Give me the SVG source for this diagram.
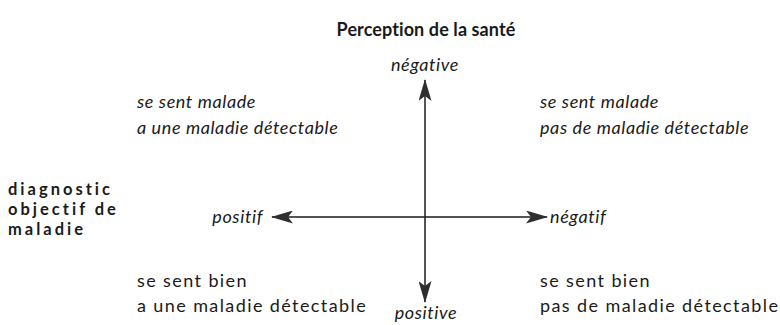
<svg xmlns="http://www.w3.org/2000/svg" width="780" height="325" viewBox="0 0 780 325">
<style>
text{font-family:Lato,"Liberation Sans",sans-serif;fill:#1a1a1a;font-size:18px;letter-spacing:1.4px}
.b{font-weight:bold}
.t{letter-spacing:0.1px}
.l{font-size:16.5px;letter-spacing:3px}
.i{font-style:italic;letter-spacing:0.6px}
.ax{stroke:#1a1a1a;stroke-width:1.5;fill:none}
</style>
<defs>
<marker id="ah" viewBox="0 0 22 13" refX="21" refY="6.5" markerWidth="22" markerHeight="13" markerUnits="userSpaceOnUse" orient="auto">
<path d="M0,0 L22,6.5 L0,13 L5,6.5 Z" fill="#2e2e2e"/>
</marker>
</defs>
<g id="title"><text class="b t" x="426" y="36" text-anchor="middle">Perception de la santé</text></g>
<g id="connectors">
<line class="ax" x1="425" y1="217" x2="425" y2="80" marker-end="url(#ah)"/>
<line class="ax" x1="425" y1="217" x2="425" y2="302" marker-end="url(#ah)"/>
<line class="ax" x1="425" y1="217" x2="272" y2="217" marker-end="url(#ah)"/>
<line class="ax" x1="425" y1="217" x2="547" y2="217" marker-end="url(#ah)"/>
</g>
<g id="negative"><text class="i" x="425" y="71" text-anchor="middle">négative</text></g>
<g id="positive"><text class="i" x="426" y="319" text-anchor="middle">positive</text></g>
<g id="positif"><text class="i" x="263" y="223" text-anchor="end">positif</text></g>
<g id="negatif"><text class="i" x="550" y="223">négatif</text></g>
<g id="label"><text class="b l" x="8" y="195">diagnostic</text><text class="b l" x="8" y="215">objectif de</text><text class="b l" x="8" y="235">maladie</text></g>
<g id="q1"><text class="i" x="137" y="108">se sent malade</text><text class="i" x="137" y="134">a une maladie détectable</text></g>
<g id="q2"><text class="i" x="540" y="108">se sent malade</text><text class="i" x="540" y="134">pas de maladie détectable</text></g>
<g id="q3"><text x="137" y="287">se sent bien</text><text x="137" y="312">a une maladie détectable</text></g>
<g id="q4"><text x="540" y="287">se sent bien</text><text x="540" y="312">pas de maladie détectable</text></g>
</svg>
